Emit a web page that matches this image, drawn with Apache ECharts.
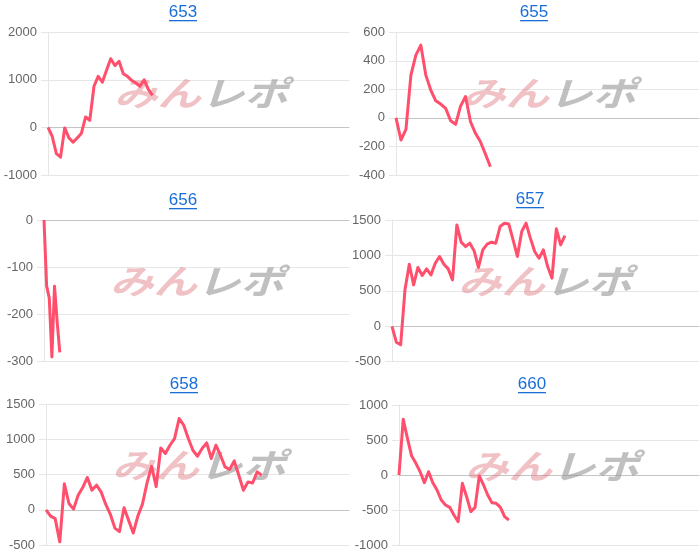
<!DOCTYPE html>
<html>
<head>
<meta charset="utf-8">
<script src="https://cdn.jsdelivr.net/npm/echarts@6/dist/echarts.min.js"></script>
<style>
html,body{margin:0;padding:0;background:#fff;}
#c{width:700px;height:554px;}
</style>
</head>
<body>
<div id="c"></div>
<script>
// ---- data ----
const titles = ['653', '655', '656', '657', '658', '660'];
const slotCounts = [73, 62, 117, 72, 67, 72];   // number of x slots per chart (labels hidden)
const values653 = [0, -185, -550, -625, -10, -220, -310, -220, -120, 220, 150, 865, 1075, 950, 1200, 1445, 1300, 1390, 1130, 1075, 990, 935, 865, 1000, 800, 675];
const values655 = [0, -155, -80, 300, 440, 510, 300, 195, 120, 97, 67, -20, -45, 83, 150, -27, -108, -167, -253, -342];
const values656 = [0, -140, -165, -290, -140, -215, -280];
const values657 = [0, -225, -262, 514, 876, 584, 830, 716, 810, 725, 890, 985, 876, 810, 655, 1430, 1187, 1125, 1173, 1064, 830, 1078, 1159, 1187, 1173, 1408, 1455, 1445, 1220, 985, 1337, 1455, 1244, 1055, 960, 1078, 843, 679, 1375, 1149, 1280];
const values658 = [0, -90, -125, -455, 370, 90, 10, 207, 316, 460, 280, 350, 255, 80, -60, -260, -310, 30, -150, -330, -90, 80, 380, 620, 330, 880, 800, 918, 1013, 1298, 1203, 1013, 847, 762, 871, 951, 729, 918, 776, 610, 573, 695, 492, 279, 397, 382, 539, 492];
const values660 = [0, 795, 524, 271, 167, 47, -110, 47, -110, -214, -357, -428, -462, -571, -667, -119, -310, -524, -462, -14, -143, -286, -395, -405, -462, -595, -643];
const ticks653 = [-1000, 0, 1000, 2000];
const ticks655 = [-400, -200, 0, 200, 400, 600];
const ticks656 = [-300, -200, -100, 0];
const ticks657 = [-500, 0, 500, 1000, 1500];
const ticks658 = [-500, 0, 500, 1000, 1500];
const ticks660 = [-1000, -500, 0, 500, 1000];
const watermarkA = 'みん';
const watermarkB = 'レポ';

const allValues = [values653, values655, values656, values657, values658, values660];
const allTicks = [ticks653, ticks655, ticks656, ticks657, ticks658, ticks660];

// ---- layout (pixels) ----
const layout = [
  {left: 48,  top: 32.3, right: 349, bottom: 175,   tx: 183, ty: 4,   tw: 28},
  {left: 396, top: 32.3, right: 699, bottom: 175,   tx: 534, ty: 4,   tw: 28},
  {left: 44,  top: 220,  right: 349, bottom: 361.7, tx: 183, ty: 192, tw: 28},
  {left: 392, top: 220,  right: 699, bottom: 361.7, tx: 530, ty: 191, tw: 28},
  {left: 46,  top: 404.3,right: 349, bottom: 545,   tx: 184, ty: 376, tw: 28},
  {left: 399, top: 405,  right: 699, bottom: 545,   tx: 532, ty: 376, tw: 28}
];

const LINE = '#ff4f6d';
const GRID = '#e6e6e6';
const ZERO = '#c4c4c4';
const LINK = '#1a6ed8';
const FONT = '"Liberation Sans", Arial, Helvetica, sans-serif';

const grids = [], xAxes = [], yAxes = [], series = [], titleArr = [], graphics = [];
layout.forEach((L, i) => {
  const ticks = allTicks[i];
  const cats = Array.from({length: slotCounts[i]}, (_, k) => String(k + 1));
  grids.push({left: L.left, top: L.top, width: L.right - L.left, height: L.bottom - L.top, containLabel: false});
  xAxes.push({
    type: 'category', gridIndex: i, data: cats, boundaryGap: false,
    axisLabel: {show: false}, axisTick: {show: false},
    splitLine: {show: false},
    axisLine: {show: true, onZero: true, lineStyle: {color: ZERO, width: 1}}
  });
  yAxes.push({
    type: 'value', gridIndex: i,
    min: ticks[0], max: ticks[ticks.length - 1], interval: ticks[1] - ticks[0],
    axisLine: {show: true, lineStyle: {color: GRID, width: 1}},
    axisTick: {show: true, length: 7, lineStyle: {color: GRID}},
    splitLine: {show: true, lineStyle: {color: GRID, width: 1}},
    axisLabel: {color: '#666', fontSize: 13, fontFamily: FONT, margin: 11, formatter: v => String(v)}
  });
  series.push({
    type: 'line', xAxisIndex: i, yAxisIndex: i, data: allValues[i],
    symbol: 'none', smooth: false, z: 5,
    lineStyle: {color: LINE, width: 3, join: 'round'}
  });
  titleArr.push({
    text: titles[i], left: L.tx, top: L.ty, textAlign: 'center', padding: 0,
    textStyle: {color: LINK, fontSize: 17, fontWeight: 'normal', fontFamily: FONT}
  });
  graphics.push({
    type: 'rect', z: 10,
    shape: {x: L.tx - L.tw / 2, y: L.ty + 16, width: L.tw, height: 1.3},
    style: {fill: LINK}
  });
  // watermark
  const wx = L.left + 66, wy = L.top + 44;
  graphics.push({
    type: 'text', z: 1, x: wx, y: wy, scaleX: 1.28,
    style: {text: watermarkA, fill: 'rgba(222,120,128,0.45)', font: 'italic bold 34px "Noto Sans CJK JP"', textVerticalAlign: 'top'}
  });
  graphics.push({
    type: 'text', z: 1, x: wx + 87, y: wy, scaleX: 1.28,
    style: {text: watermarkB, fill: 'rgba(150,150,150,0.6)', font: 'italic bold 34px "Noto Sans CJK JP"', textVerticalAlign: 'top'}
  });
});

const chart = echarts.init(document.getElementById('c'), null, {renderer: 'canvas'});
chart.setOption({
  animation: false,
  backgroundColor: '#fff',
  title: titleArr,
  grid: grids,
  xAxis: xAxes,
  yAxis: yAxes,
  series: series,
  graphic: graphics
});
</script>
</body>
</html>
